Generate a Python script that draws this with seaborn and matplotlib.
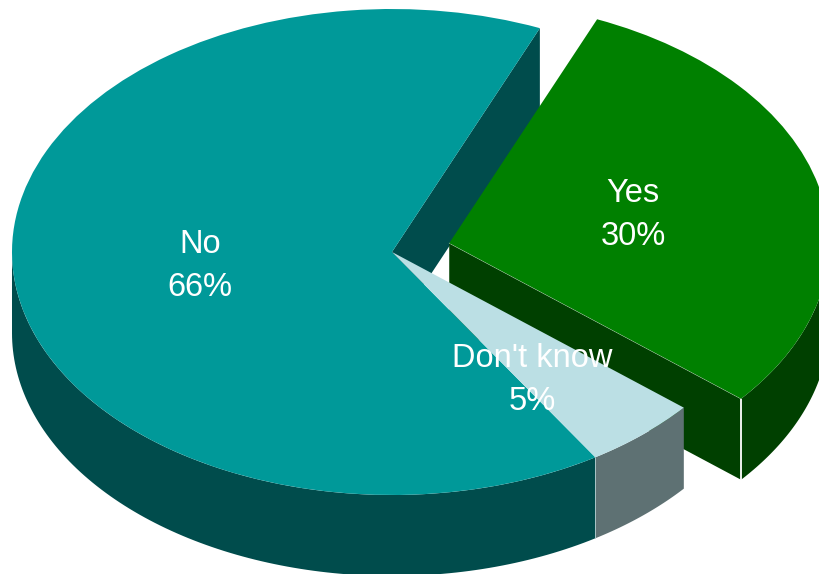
import numpy as np
import matplotlib
matplotlib.use("Agg")
import matplotlib.pyplot as plt
import seaborn as sns

# Survey answers, in drawing order going counter-clockwise from the start angle
categories = ["No", "Don't know", "Yes"]
shares = [66, 5, 30]
explode = [0, 0, 0.155]
top_hex = ["#009999", "#BBDFE4", "#008000"]
wall_hex = ["#004C4C", "#5E7173", "#004000"]

START_ANGLE = 67.1
DEPTH = 81 / 243      # disc thickness in data units
X_LIM = (-392 / 380, 428 / 380)
Y_LIM = (-322 / 243, 252 / 243)

sns.set_theme(style="white")
plt.rcParams["font.family"] = ["Liberation Sans", "DejaVu Sans"]
top_colors = sns.color_palette(top_hex)
wall_colors = sns.color_palette(wall_hex)

fig = plt.figure(figsize=(8.2, 5.74), dpi=100)
ax = fig.add_axes([0, 0, 1, 1])

wedges, _ = ax.pie(shares, colors=top_colors, explode=explode,
                   startangle=START_ANGLE, counterclock=True, radius=1,
                   wedgeprops={"linewidth": 0})
for w in wedges:
    w.set_zorder(5)

# Slice boundaries in degrees, derived from the shares
fractions = np.array(shares) / np.sum(shares)
edges = START_ANGLE + 360 * np.concatenate([[0], np.cumsum(fractions)])


def point(angle, offset=(0, 0), r=1.0):
    a = np.deg2rad(angle)
    return offset[0] + r * np.cos(a), offset[1] + r * np.sin(a)


def outer_wall(a1, a2, offset, color, z):
    # Curved rim between two angles, extruded downward by the disc thickness
    t = np.linspace(a1, a2, 120)
    x = offset[0] + np.cos(np.deg2rad(t))
    y = offset[1] + np.sin(np.deg2rad(t))
    ax.fill(np.r_[x, x[::-1]], np.r_[y, y[::-1] - DEPTH], color=color,
            linewidth=0, zorder=z)


def cut_wall(angle, offset, color, z):
    # Flat radial face from the slice apex to the rim
    x0, y0 = offset
    x1, y1 = point(angle, offset)
    ax.fill([x0, x1, x1, x0], [y0, y1, y1 - DEPTH, y0 - DEPTH], color=color,
            linewidth=0, zorder=z)


# "No": cut face behind the wedge tip plus the rim on the left and front
cut_wall(edges[0], (0, 0), wall_colors[0], 1)
outer_wall(180, edges[1], (0, 0), wall_colors[0], 3)

# "Yes": pulled out along its bisector
yes_mid = (edges[2] + edges[3]) / 2
yes_off = point(yes_mid, r=explode[2])
cut_wall(edges[2], yes_off, wall_colors[2], 2)
outer_wall(edges[2], 360, yes_off, wall_colors[2], 2)

# "Don't know": only its rim faces the viewer
outer_wall(edges[1], edges[2], (0, 0), wall_colors[1], 4)

# Thin white highlights along the exploded slice and the rim seam
cx, cy = point(edges[2], yes_off)
ax.plot([yes_off[0], cx], [yes_off[1], cy], color="white", lw=0.6, alpha=0.7, zorder=4.5)
ax.plot([cx, cx], [cy, cy - DEPTH], color="white", lw=1.3, zorder=4.5,
        solid_capstyle="butt")
sx, sy = point(edges[1])
ax.plot([sx, sx], [sy, sy - DEPTH], color="#A9C4C6", lw=0.7, zorder=4.5,
        solid_capstyle="butt")

ax.set_aspect("auto")
ax.set_xlim(*X_LIM)
ax.set_ylim(*Y_LIM)
ax.axis("off")

# Labels placed on each slice, in axes fractions
label_pos = {"No": (200 / 820, 1 - 266 / 574),
             "Don't know": (532 / 820, 1 - 380 / 574),
             "Yes": (633 / 820, 1 - 215 / 574)}
for name, share in zip(categories, shares):
    ax.text(*label_pos[name], f"{name}\n{share}%", transform=ax.transAxes,
            ha="center", va="center", color="white", fontsize=23.5,
            linespacing=1.46, zorder=10)

fig.savefig("out.png", dpi=100, facecolor="white")
